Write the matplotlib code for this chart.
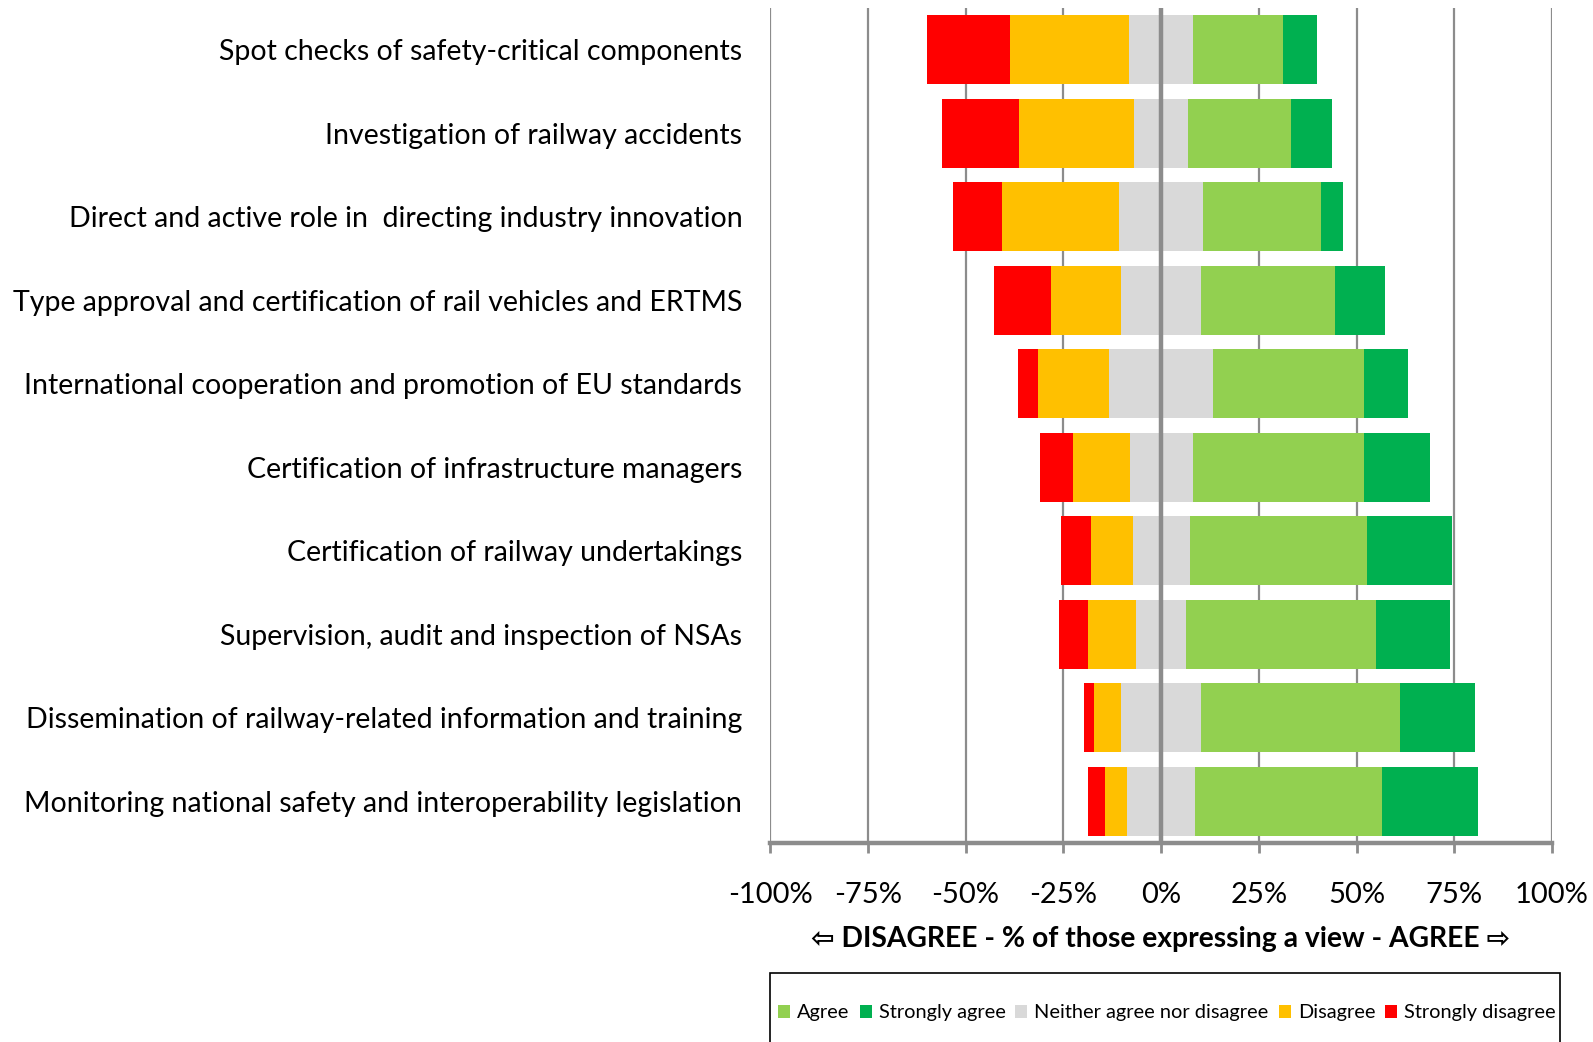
import numpy as np
import matplotlib.pyplot as plt
from matplotlib.patches import Rectangle

plt.rcParams['font.family'] = ['Lato', 'DejaVu Sans']

categories = [
    'Spot checks of safety-critical components',
    'Investigation of railway accidents',
    'Direct and active role in  directing industry innovation',
    'Type approval and certification of rail vehicles and ERTMS',
    'International cooperation and promotion of EU standards',
    'Certification of infrastructure managers',
    'Certification of railway undertakings',
    'Supervision, audit and inspection of NSAs',
    'Dissemination of railway-related information and training',
    'Monitoring national safety and interoperability legislation',
]

# percentages of those expressing a view
strongly_disagree = [21.2, 19.8, 12.4, 14.5, 5.1, 8.5, 7.7, 7.4, 2.6, 4.3]
disagree = [30.6, 29.4, 30.1, 17.9, 18.3, 14.5, 10.5, 12.3, 7.0, 5.8]
neutral = [16.2, 13.8, 21.4, 20.4, 26.4, 16.1, 14.6, 12.6, 20.4, 17.2]
agree = [23.0, 26.3, 30.1, 34.3, 38.7, 43.8, 45.4, 48.6, 50.9, 48.0]
strongly_agree = [8.9, 10.6, 5.8, 12.7, 11.3, 16.9, 21.7, 19.0, 19.1, 24.5]

c_sa = '#00B050'
c_a = '#92D050'
c_n = '#D9D9D9'
c_d = '#FFC000'
c_sd = '#FF0000'
grey = '#8C8C8C'

y = np.arange(len(categories))
sd = np.array(strongly_disagree)
d = np.array(disagree)
n = np.array(neutral)
a = np.array(agree)
sa = np.array(strongly_agree)

fig = plt.figure(figsize=(15.93, 10.42), dpi=100)
ax = fig.add_axes([0.4834, 0.191, 0.4909, 0.8013])

h = 0.83
ax.barh(y, a, left=n / 2, height=h, color=c_a, label='Agree', zorder=2)
ax.barh(y, sa, left=n / 2 + a, height=h, color=c_sa, label='Strongly agree', zorder=2)
ax.barh(y, n, left=-n / 2, height=h, color=c_n, label='Neither agree nor disagree', zorder=2)
ax.barh(y, -d, left=-n / 2, height=h, color=c_d, label='Disagree', zorder=2)
ax.barh(y, -sd, left=-n / 2 - d, height=h, color=c_sd, label='Strongly disagree', zorder=2)

# vertical axis line at 0 sits on top of the bars
ax.axvline(0, color=grey, lw=3.2, zorder=3)

ax.set_xlim(-100, 100)
ax.set_ylim(len(categories) - 0.5, -0.5)
ax.set_xticks(np.arange(-100, 101, 25))
ax.set_xticklabels([f'{v}%' for v in range(-100, 101, 25)], fontsize=21)
ax.set_yticks(y)
ax.set_yticklabels(categories, fontsize=20.5)
ax.tick_params(axis='y', length=0, pad=20)
ax.tick_params(axis='x', length=7, width=2, color=grey, pad=21)
ax.grid(axis='x', color=grey, lw=1.6, zorder=0)
ax.set_axisbelow(True)

for s in ['top', 'right', 'left']:
    ax.spines[s].set_visible(False)
ax.spines['bottom'].set_color(grey)
ax.spines['bottom'].set_linewidth(3.2)

ax.set_xlabel('\u21e6 DISAGREE - % of those expressing a view - AGREE \u21e8',
              fontsize=20.3, fontweight='bold', labelpad=13)

# legend box runs off the bottom of the figure
fig.patches.append(Rectangle((0.4834, -0.05), 0.496, 0.1162, transform=fig.transFigure,
                             fill=False, edgecolor='black', linewidth=1.2))
fig.legend(loc='center left', bbox_to_anchor=(0.4885, 0.028),
           ncol=5, fontsize=14.4, frameon=False,
           handlelength=0.6, handleheight=0.6,
           handletextpad=0.35, columnspacing=0.5, borderpad=0, borderaxespad=0)

fig.savefig('out.png', dpi=100)
